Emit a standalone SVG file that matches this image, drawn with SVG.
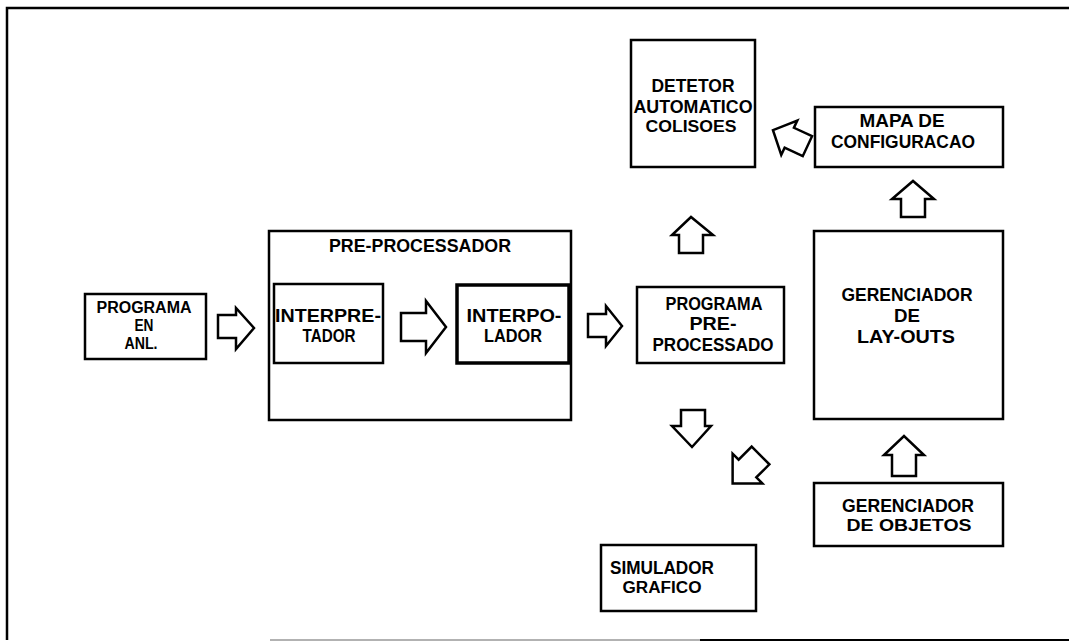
<svg xmlns="http://www.w3.org/2000/svg" width="1069" height="642" viewBox="0 0 1069 642">
<style>
.box{fill:none;stroke:#000;stroke-width:2.5}
.thick{stroke-width:3.5}
.arr{fill:#fff;stroke:#000;stroke-width:2.5;stroke-linejoin:miter}
text{font-family:"Liberation Sans","DejaVu Sans",sans-serif;font-weight:bold;font-size:19px;fill:#000;text-anchor:middle}
.md{font-size:18px}
.sm{font-size:16px}
</style>
<rect width="1069" height="642" fill="#fff"/>
<g id="frame" fill="none">
<path d="M7,640 L7,8 L1069,8" stroke="#000" stroke-width="2.5"/>
<path d="M270,640 L700,640" stroke="#999" stroke-width="1.5"/>
<path d="M700,640 L1069,640" stroke="#000" stroke-width="2"/>
</g>
<g id="programa-anl">
<rect class="box" x="85" y="294" width="121" height="65"/>
<text x="144" y="313" class="sm" textLength="95" lengthAdjust="spacingAndGlyphs">PROGRAMA</text>
<text x="144" y="331" class="sm" textLength="19" lengthAdjust="spacingAndGlyphs">EN</text>
<text x="141" y="349" class="sm" textLength="33" lengthAdjust="spacingAndGlyphs">ANL.</text>
</g>
<g id="pre-processador">
<rect class="box" x="269" y="231" width="302" height="189"/>
<text x="420" y="252" textLength="182" lengthAdjust="spacingAndGlyphs">PRE-PROCESSADOR</text>
</g>
<g id="interpretador">
<rect class="box" x="274" y="284" width="109" height="79"/>
<text x="328" y="322" class="md" textLength="106" lengthAdjust="spacingAndGlyphs">INTERPRE-</text>
<text x="329" y="342" class="md" textLength="53" lengthAdjust="spacingAndGlyphs">TADOR</text>
</g>
<g id="interpolador">
<rect class="box thick" x="457" y="285" width="112" height="78"/>
<text x="514" y="322" class="md" textLength="95" lengthAdjust="spacingAndGlyphs">INTERPO-</text>
<text x="513" y="342" class="md" textLength="58" lengthAdjust="spacingAndGlyphs">LADOR</text>
</g>
<g id="programa-pre-processado">
<rect class="box" x="637" y="287" width="147" height="76"/>
<text x="714" y="310" class="md" textLength="97" lengthAdjust="spacingAndGlyphs">PROGRAMA</text>
<text x="713" y="330" class="md" textLength="47" lengthAdjust="spacingAndGlyphs">PRE-</text>
<text x="713" y="351" class="md" textLength="121" lengthAdjust="spacingAndGlyphs">PROCESSADO</text>
</g>
<g id="detetor">
<rect class="box" x="631" y="40" width="124" height="127"/>
<text x="693" y="92" class="md" textLength="83" lengthAdjust="spacingAndGlyphs">DETETOR</text>
<text x="693" y="113" class="md" textLength="119" lengthAdjust="spacingAndGlyphs">AUTOMATICO</text>
<text x="691" y="132" class="sm" textLength="91" lengthAdjust="spacingAndGlyphs">COLISOES</text>
</g>
<g id="mapa">
<rect class="box" x="815" y="107" width="188" height="60"/>
<text x="902" y="127" class="md" textLength="85" lengthAdjust="spacingAndGlyphs">MAPA DE</text>
<text x="903" y="148" class="md" textLength="144" lengthAdjust="spacingAndGlyphs">CONFIGURACAO</text>
</g>
<g id="gerenciador-layouts">
<rect class="box" x="814" y="231" width="189" height="188"/>
<text x="907" y="301" class="md" textLength="131" lengthAdjust="spacingAndGlyphs">GERENCIADOR</text>
<text x="907" y="322" class="md" textLength="26" lengthAdjust="spacingAndGlyphs">DE</text>
<text x="906" y="343" class="md" textLength="98" lengthAdjust="spacingAndGlyphs">LAY-OUTS</text>
</g>
<g id="gerenciador-objetos">
<rect class="box" x="814" y="483" width="189" height="63"/>
<text x="908" y="512" class="md" textLength="132" lengthAdjust="spacingAndGlyphs">GERENCIADOR</text>
<text x="909" y="531" class="sm" textLength="125" lengthAdjust="spacingAndGlyphs">DE OBJETOS</text>
</g>
<g id="simulador">
<rect class="box" x="601" y="545" width="155" height="66"/>
<text x="662" y="574" class="md" textLength="104" lengthAdjust="spacingAndGlyphs">SIMULADOR</text>
<text x="662" y="593" class="sm" textLength="79" lengthAdjust="spacingAndGlyphs">GRAFICO</text>
</g>
<g id="connectors">
<path class="arr" d="M218,315 L236,315 L236,308 L254,328 L236,349 L236,338 L218,338 Z"/>
<path class="arr" d="M401,313 L426,313 L426,301 L446,327 L426,353 L426,341 L401,341 Z"/>
<path class="arr" d="M588,314 L606,314 L606,306 L622,326 L606,346 L606,337 L588,337 Z"/>
<path class="arr" d="M679,253 L679,235 L672,235 L691,217 L713,235 L703,235 L703,253 Z"/>
<path class="arr" d="M901,217 L901,199 L892,199 L913,181 L934,199 L925,199 L925,217 Z"/>
<path class="arr" d="M892,476 L892,455 L884,455 L904,436 L924,455 L916,455 L916,476 Z"/>
<path class="arr" d="M681,410 L705,410 L705,426 L711,426 L692,447 L672,426 L681,426 Z"/>
<path class="arr" transform="translate(751,465) rotate(45)" d="M-12.5,-13.5 L12.5,-13.5 L12.5,5 L21,5 L0,26 L-21,5 L-12.5,5 Z"/>
<path class="arr" transform="translate(792,139) rotate(25)" d="M17,-11 L-3,-11 L-3,-19 L-21,0 L-3,19 L-3,11 L17,11 Z"/>
</g>
</svg>
